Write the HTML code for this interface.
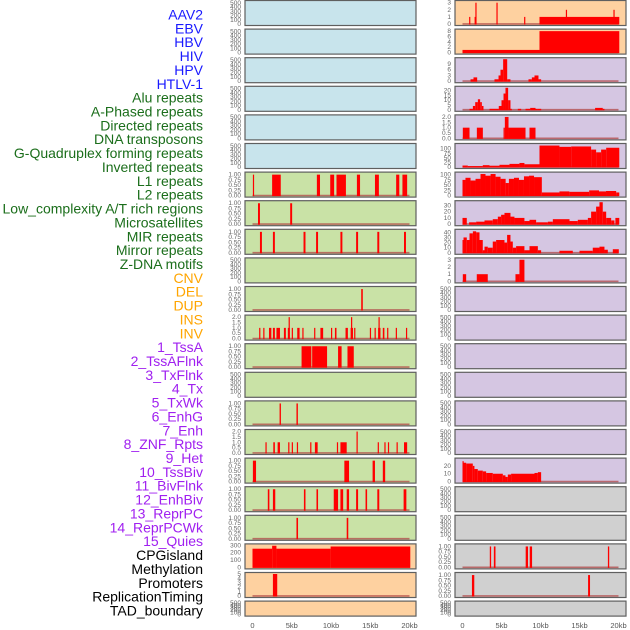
<!DOCTYPE html>
<html><head><meta charset="utf-8">
<style>
html,body{margin:0;padding:0;background:#fff;}
svg{display:block;font-family:"Liberation Sans",sans-serif;}
</style></head>
<body>
<svg id="chart" width="630" height="630" viewBox="0 0 630 630" xmlns="http://www.w3.org/2000/svg"></svg>
<script>
// ---- data (kb positions, values) ----
const labels = ["AAV2","EBV","HBV","HIV","HPV","HTLV-1","Alu repeats","A-Phased repeats","Directed repeats","DNA transposons","G-Quadruplex forming repeats","Inverted repeats","L1 repeats","L2 repeats","Low_complexity A/T rich regions","Microsatellites","MIR repeats","Mirror repeats","Z-DNA motifs","CNV","DEL","DUP","INS","INV","1_TssA","2_TssAFlnk","3_TxFlnk","4_Tx","5_TxWk","6_EnhG","7_Enh","8_ZNF_Rpts","9_Het","10_TssBiv","11_BivFlnk","12_EnhBiv","13_ReprPC","14_ReprPCWk","15_Quies","CPGisland","Methylation","Promoters","ReplicationTiming","TAD_boundary"];
const labelColors = ["#1a1aff","#1a1aff","#1a1aff","#1a1aff","#1a1aff","#1a1aff","#1b6e1b","#1b6e1b","#1b6e1b","#1b6e1b","#1b6e1b","#1b6e1b","#1b6e1b","#1b6e1b","#1b6e1b","#1b6e1b","#1b6e1b","#1b6e1b","#1b6e1b","#ffa500","#ffa500","#ffa500","#ffa500","#ffa500","#a020f0","#a020f0","#a020f0","#a020f0","#a020f0","#a020f0","#a020f0","#a020f0","#a020f0","#a020f0","#a020f0","#a020f0","#a020f0","#a020f0","#a020f0","#000","#000","#000","#000","#000"];
const xTickValues = [0,5,10,15,20];
const xTickLabels = ["0","5kb","10kb","15kb","20kb"];

// middle column tracks [startKb, endKb, value]
const midL1 = [[0.05,0.15,1],[2.5,3.6,1],[8.2,8.6,1],[9.9,10.4,1],[10.7,11.9,1],[13.3,13.7,1],[15.6,16.1,1],[18.3,18.7,1],[19.1,19.7,1]];
const midLowComp = [[0.7,0.95,1],[4.8,5.05,1]];
const midMIR = [[0.95,1.2,1],[2.6,2.85,1],[6.5,6.75,1],[8.1,8.35,1],[11.2,11.45,1],[13.2,13.45,1],[15.9,16.15,1],[19.3,19.55,1]];
const midDEL = [[13.85,14.05,1]];
const midINS = [[0.85,1.0,1],[1.37,1.5,1],[2.1,2.4,1],[2.6,2.85,1],[3.05,3.5,1],[4.0,4.25,1],[4.5,4.75,1],[4.6,4.7,2],[5.0,5.12,1],[5.7,6.0,1],[6.35,6.48,1],[7.85,7.98,1],[8.65,9.0,1],[10.0,10.12,1],[10.5,10.7,1],[11.85,12.15,1],[12.5,12.8,1],[12.55,12.68,2],[12.95,13.08,1],[14.95,15.08,1],[15.55,15.68,1],[16.0,16.3,1],[16.05,16.17,2],[16.6,16.8,1],[17.15,17.28,1],[18.25,18.38,1],[19.55,19.68,1]];
const midTssA = [[6.25,7.5,1],[7.6,9.5,1],[10.9,11.35,1],[12.1,12.9,1]];
const midTx = [[3.45,3.62,1],[5.6,5.78,1]];
const midTxWk = [[1.65,1.8,1],[2.65,2.85,1],[3.2,3.5,1],[4.55,4.68,1],[5.0,5.12,1],[5.65,5.78,1],[7.35,7.48,1],[7.95,8.3,1],[10.75,10.88,1],[11.2,12.0,1],[13.25,13.38,2],[15.95,16.08,1],[16.8,16.93,1],[17.25,17.38,1],[18.35,18.48,1],[19.3,19.7,1]];
const midEnh = [[0.05,0.45,1],[11.7,12.3,1],[15.3,15.6,1],[16.6,16.9,1]];
const midZNF = [[1.95,2.15,1],[2.6,2.9,1],[6.55,6.75,1],[8.15,8.35,1],[10.35,10.9,1],[11.2,11.55,1],[12.0,12.3,1],[13.2,13.45,1],[14.4,14.6,1],[15.9,16.15,1],[19.25,19.6,1]];
const midHet = [[5.6,5.8,1],[12.0,12.2,1]];
const midCpG = [[0,2.5,255],[2.5,3.05,295],[3.05,9.95,255],[9.95,20.1,285]];
const midPromoters = [[2.6,3.15,5]];

// right column tracks
const rightAAV2 = [[0.85,0.97,1],[1.55,1.65,1],[1.65,1.8,3],[4.35,4.47,3],[7.9,8.02,1],[9.87,20.1,1],[13.25,13.4,2],[19.35,19.5,2]];
const rightEBV = [[0,9.87,1],[9.87,20.1,8]];
const rightHIV = [[1.03,1.41,1],[1.41,1.88,2],[4.1,4.62,1],[4.62,4.87,3],[4.87,5.21,6],[5.21,5.73,11.5],[5.73,6.15,1],[8.46,8.89,1],[8.89,9.23,2],[9.23,9.74,3],[9.74,10.08,1]];
const rightHPV = [[0.9,1.33,1],[1.33,1.63,4],[1.63,1.97,8],[1.97,2.26,11],[2.26,2.48,8],[2.48,2.69,4],[3.46,4.65,1],[4.65,5.0,4],[5.0,5.26,10],[5.26,5.51,17],[5.51,5.85,23],[5.85,6.15,10],[6.15,6.32,1],[7.09,7.52,1],[8.08,8.68,1],[8.68,9.36,2],[9.36,9.66,1],[9.66,10.09,1],[17.0,17.98,2],[17.98,18.2,1]];
const rightHTLV = [[0.04,0.9,1],[1.84,2.61,1],[5.26,5.43,1],[5.43,5.9,2],[5.9,8.08,1],[8.59,9.36,1]];
const rightAlu = [[0,0.68,8],[0.68,2.6,5],[2.6,3.46,10],[3.46,4.74,7],[4.74,6.02,12],[6.02,7.3,17],[7.3,7.94,22],[7.94,9.87,15],[9.87,12.43,117],[12.43,13.93,110],[13.93,16.49,112],[16.49,17.13,95],[17.13,17.77,80],[17.77,18.42,95],[18.42,20.1,105]];
const rightAPhased = [[0,0.38,75],[0.38,1.03,85],[1.03,1.67,72],[1.67,2.31,80],[2.31,2.95,103],[2.95,3.6,95],[3.6,4.24,103],[4.24,4.88,90],[4.88,5.53,80],[5.53,5.95,60],[5.95,6.6,80],[6.6,7.24,85],[7.24,7.88,75],[7.88,8.53,92],[8.53,9.17,95],[9.17,10.17,88],[10.17,12.43,15],[12.43,13.7,20],[13.7,16.24,18],[16.24,17.5,25],[17.5,18.4,20],[18.4,19.7,22],[19.7,20.1,15]];
const rightDirected = [[0,0.55,10],[0.85,1.75,3],[1.75,2.82,4],[2.82,3.88,6],[3.88,4.53,8],[4.53,4.95,12],[4.95,5.38,15],[5.38,6.15,18],[6.15,6.66,12],[6.66,7.94,10],[7.94,8.59,5],[8.59,9.44,7],[9.44,10.94,3],[10.94,11.58,4],[11.58,13.72,8],[13.72,14.78,5],[14.78,16.07,7],[16.07,16.49,10],[16.49,17.13,20],[17.13,17.56,28],[17.56,17.98,35],[17.98,18.42,20],[18.42,19.06,10],[19.06,19.48,6],[19.6,20.1,10]];
const rightDNA = [[0,0.13,25],[0.13,0.55,30],[0.55,0.9,25],[0.9,1.33,38],[1.33,1.75,42],[1.75,2.18,40],[2.18,2.6,25],[2.6,2.82,5],[2.82,3.24,12],[3.24,3.88,10],[3.88,4.31,22],[4.31,5.38,25],[5.38,5.72,20],[5.72,6.15,35],[6.15,6.45,22],[6.45,6.87,10],[6.87,7.94,13],[7.94,8.59,5],[8.59,9.66,13],[9.66,10.08,5],[12.43,14.14,4],[15.0,16.7,4],[16.7,17.56,10],[17.56,18.2,12],[18.2,18.63,6],[19.27,20.04,7]];
const rightGQuad = [[0.04,0.47,1],[1.83,3.24,1],[6.79,7.3,1],[7.3,7.94,3]];
const rightHet = [[0,0.12,26],[0.12,0.47,24],[0.47,1.32,23],[1.32,1.53,20],[1.53,1.96,16],[1.96,2.6,14],[2.6,3.03,13],[3.03,3.88,11],[3.88,5.17,10],[5.17,5.51,8],[5.51,5.81,6],[5.81,6.23,9],[6.23,9.23,10],[9.23,9.66,11],[9.66,10.08,12]];
const rightCpG = [[3.5,3.67,1],[4.02,4.23,1],[8.1,8.4,1],[8.62,8.92,1],[18.64,18.81,1]];
const rightMeth = [[1.21,1.51,1],[16.1,16.35,1]];

// tick sets
const ticksEmpty = [0,100,200,300,400,500];
const ticksUnit = [0,0.25,0.5,0.75,1];
const ticksTwo = [0,0.5,1,1.5,2];

// ---- layout ----
const NS = "http://www.w3.org/2000/svg";
const svg = document.getElementById("chart");
const BLUE="#c8e4ec", GREEN="#c9e2a6", ORANGE="#fed1a0", PURPLE="#d5c6e2", GRAY="#d0d0d0";
const cols = [{x:245,w:171,x0:252.5,s:7.85,tx:241},{x:455,w:171,x0:462.5,s:7.8,tx:451}];
function rowTop(r){return 0.5 + r*28.6;}
function mk(tag, attrs, parent){const e=document.createElementNS(NS,tag);for(const k in attrs)e.setAttribute(k,attrs[k]);(parent||svg).appendChild(e);return e;}

const mid = [
 {bg:BLUE},{bg:BLUE},{bg:BLUE},{bg:BLUE},{bg:BLUE},{bg:BLUE},
 {bg:GREEN,data:midL1,ymax:1.05,ticks:ticksUnit,fmt:2},
 {bg:GREEN,data:midLowComp,ymax:1.05,ticks:ticksUnit,fmt:2},
 {bg:GREEN,data:midMIR,ymax:1.05,ticks:ticksUnit,fmt:2},
 {bg:GREEN},
 {bg:GREEN,data:midDEL,ymax:1.05,ticks:ticksUnit,fmt:2},
 {bg:GREEN,data:midINS,ymax:2.05,ticks:ticksTwo,fmt:1},
 {bg:GREEN,data:midTssA,ymax:1.05,ticks:ticksUnit,fmt:2},
 {bg:GREEN},
 {bg:GREEN,data:midTx,ymax:1.05,ticks:ticksUnit,fmt:2},
 {bg:GREEN,data:midTxWk,ymax:2.05,ticks:ticksTwo,fmt:1},
 {bg:GREEN,data:midEnh,ymax:1.05,ticks:ticksUnit,fmt:2},
 {bg:GREEN,data:midZNF,ymax:1.05,ticks:ticksUnit,fmt:2},
 {bg:GREEN,data:midHet,ymax:1.05,ticks:ticksUnit,fmt:2},
 {bg:ORANGE,data:midCpG,ymax:300,ticks:[0,100,200,300],fmt:0,nobase:true},
 {bg:ORANGE,data:midPromoters,ymax:5,ticks:[0,1,2,3,4,5],fmt:0},
 {bg:ORANGE,h:15}
];
const right = [
 {bg:ORANGE,data:rightAAV2,ymax:3.1,ticks:[0,1,2,3],fmt:0},
 {bg:ORANGE,data:rightEBV,ymax:8.2,ticks:[0,2,4,6,8],fmt:0},
 {bg:PURPLE,data:rightHIV,ymax:11.5,ticks:[0,3,6,9],fmt:0},
 {bg:PURPLE,data:rightHPV,ymax:23,ticks:[0,5,10,15,20],fmt:0},
 {bg:PURPLE,data:rightHTLV,ymax:2.05,ticks:ticksTwo,fmt:1},
 {bg:PURPLE,data:rightAlu,ymax:120,ticks:[0,25,50,75,100],fmt:0},
 {bg:PURPLE,data:rightAPhased,ymax:105,ticks:[0,25,50,75,100],fmt:0},
 {bg:PURPLE,data:rightDirected,ymax:35,ticks:[0,10,20,30],fmt:0},
 {bg:PURPLE,data:rightDNA,ymax:43,ticks:[0,10,20,30,40],fmt:0},
 {bg:PURPLE,data:rightGQuad,ymax:3.05,ticks:[0,1,2,3],fmt:0},
 {bg:PURPLE},{bg:PURPLE},{bg:PURPLE},{bg:PURPLE},{bg:PURPLE},{bg:PURPLE},
 {bg:PURPLE,data:rightHet,ymax:28,ticks:[0,10,20],fmt:0},
 {bg:GRAY},{bg:GRAY},
 {bg:GRAY,data:rightCpG,ymax:1.05,ticks:ticksUnit,fmt:2},
 {bg:GRAY,data:rightMeth,ymax:1.05,ticks:ticksUnit,fmt:2},
 {bg:GRAY,h:15}
];

// labels
labels.forEach((t,i)=>{
  const e = mk("text",{x:203,y:19.5+i*13.86,"text-anchor":"end","font-size":"14",fill:labelColors[i]});
  e.textContent=t;
  
  
});

function drawPanel(p, c, r){
  const col=cols[c], top=rowTop(r), h=p.h||25, bottom=top+h;
  const g = mk("g",{});
  
  
  const bg = mk("rect",{x:col.x,y:top,width:col.w,height:h,fill:p.bg,stroke:"#5f5f5f","stroke-width":1.2},g);
  
  
  const xs = kb=>col.x0+kb*col.s;
  const ticks = p.ticks||ticksEmpty, ymax = p.ymax||520, fmt = p.fmt||0;
  const ys = v=>bottom-1.5-v/ymax*(h-3);
  ticks.forEach(t=>{
    const tt = mk("text",{x:col.tx,y:ys(t)+2,"text-anchor":"end","font-size":"6.5",fill:"#666"},g);
    tt.textContent = t.toFixed(fmt);
    
    
  });
  if(p.data){
    if(!p.nobase){
      const bl = mk("line",{x1:xs(0),x2:xs(20),y1:bottom-1.6,y2:bottom-1.6,stroke:"#b04848","stroke-width":1.6,"stroke-opacity":0.75},g);
      
      
    }
    p.data.forEach(d=>{
      const x1=xs(d[0]), x2=xs(d[1]), y=ys(d[2]);
      const b = mk("rect",{x:x1,y:y,width:Math.max(1.2,x2-x1),height:bottom-1-y,fill:"#ff0000"},g);
      
      
    });
  }
}
mid.forEach((p,i)=>drawPanel(p,0,i));
right.forEach((p,i)=>drawPanel(p,1,i));

// x axes
cols.forEach(col=>{
  xTickValues.forEach((v,i)=>{
    const t = mk("text",{x:col.x0+v*col.s,y:628,"text-anchor":"middle","font-size":"7.5",fill:"#555"});
    t.textContent = xTickLabels[i];
    
    
  });
});
</script>
</body></html>
